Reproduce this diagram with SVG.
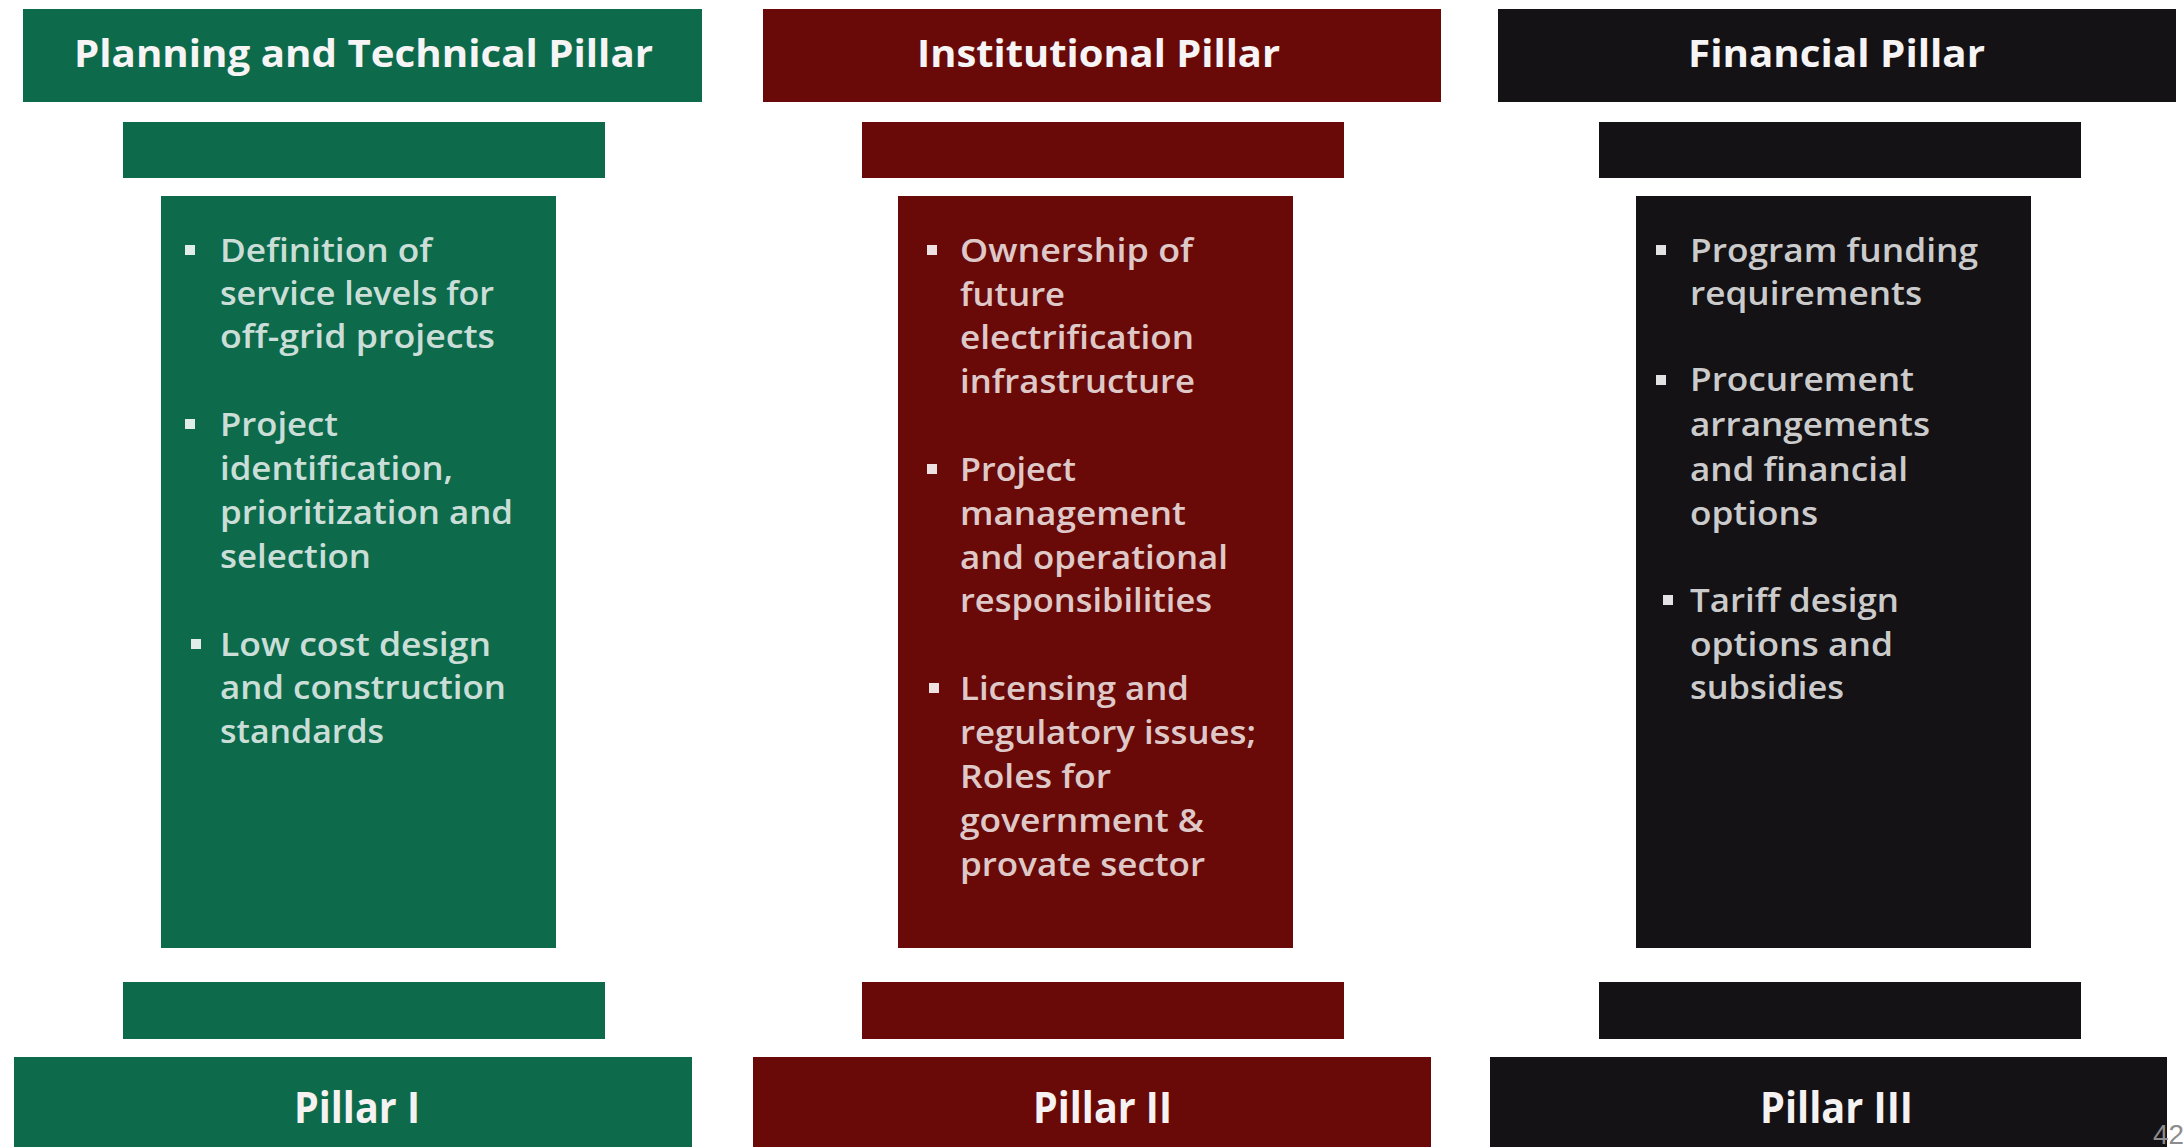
<svg xmlns="http://www.w3.org/2000/svg" width="2183" height="1147" viewBox="0 0 2183 1147">
  <style>
    .green { fill: #0d6b4c; }
    .red { fill: #6a0a08; }
    .black { fill: #141215; }
    .head { font-family: "Open Sans", "Liberation Sans", sans-serif; font-weight: 700; font-size: 37px; fill: #f6f4f4; }
    .foot { font-family: "Open Sans", "Liberation Sans", sans-serif; font-weight: 700; font-size: 43px; fill: #f6f2f2; }
    .item { font-family: "Open Sans", "Liberation Sans", sans-serif; font-weight: 600; font-size: 32px; fill: #ffffff; fill-opacity: 0.8; }
    .dot { fill: #ffffff; fill-opacity: 0.88; }
    .page { font-family: "Liberation Sans", sans-serif; font-size: 28px; fill: #8c8c8c; }
  </style>
  <rect width="2183" height="1147" fill="#ffffff"/>

  <!-- Pillar I: planning and technical -->
  <g id="pillar-planning">
    <rect class="green" x="23" y="9" width="679" height="93"/>
    <text class="head" x="74" y="67" textLength="579" lengthAdjust="spacingAndGlyphs">Planning and Technical Pillar</text>
    <rect class="green" x="123" y="122" width="482" height="56"/>
    <rect class="green" x="161" y="196" width="395" height="752"/>
    <rect class="dot" x="185" y="245" width="10" height="10"/>
    <rect class="dot" x="185" y="419" width="10" height="10"/>
    <rect class="dot" x="191" y="639" width="10" height="10"/>
    <text class="item" x="220" y="262" textLength="212" lengthAdjust="spacingAndGlyphs">Definition of</text>
    <text class="item" x="220" y="305" textLength="274" lengthAdjust="spacingAndGlyphs">service levels for</text>
    <text class="item" x="220" y="348" textLength="275" lengthAdjust="spacingAndGlyphs">off-grid projects</text>
    <text class="item" x="220" y="436" textLength="118" lengthAdjust="spacingAndGlyphs">Project</text>
    <text class="item" x="220" y="480" textLength="233" lengthAdjust="spacingAndGlyphs">identification,</text>
    <text class="item" x="220" y="524" textLength="293" lengthAdjust="spacingAndGlyphs">prioritization and</text>
    <text class="item" x="220" y="568" textLength="151" lengthAdjust="spacingAndGlyphs">selection</text>
    <text class="item" x="220" y="656" textLength="271" lengthAdjust="spacingAndGlyphs">Low cost design</text>
    <text class="item" x="220" y="699" textLength="286" lengthAdjust="spacingAndGlyphs">and construction</text>
    <text class="item" x="220" y="743" textLength="164" lengthAdjust="spacingAndGlyphs">standards</text>
    <rect class="green" x="123" y="982" width="482" height="57"/>
    <rect class="green" x="14" y="1057" width="678" height="95"/>
    <text class="foot" x="294" y="1123" textLength="126" lengthAdjust="spacingAndGlyphs">Pillar I</text>
  </g>

  <!-- Pillar II: institutional -->
  <g id="pillar-institutional">
    <rect class="red" x="763" y="9" width="678" height="93"/>
    <text class="head" x="917" y="67" textLength="363" lengthAdjust="spacingAndGlyphs">Institutional Pillar</text>
    <rect class="red" x="862" y="122" width="482" height="56"/>
    <rect class="red" x="898" y="196" width="395" height="752"/>
    <rect class="dot" x="927" y="245" width="10" height="10"/>
    <rect class="dot" x="927" y="464" width="10" height="10"/>
    <rect class="dot" x="929" y="683" width="10" height="10"/>
    <text class="item" x="960" y="262" textLength="233" lengthAdjust="spacingAndGlyphs">Ownership of</text>
    <text class="item" x="960" y="306" textLength="105" lengthAdjust="spacingAndGlyphs">future</text>
    <text class="item" x="960" y="349" textLength="234" lengthAdjust="spacingAndGlyphs">electrification</text>
    <text class="item" x="960" y="393" textLength="235" lengthAdjust="spacingAndGlyphs">infrastructure</text>
    <text class="item" x="960" y="481" textLength="116" lengthAdjust="spacingAndGlyphs">Project</text>
    <text class="item" x="960" y="525" textLength="226" lengthAdjust="spacingAndGlyphs">management</text>
    <text class="item" x="960" y="569" textLength="268" lengthAdjust="spacingAndGlyphs">and operational</text>
    <text class="item" x="960" y="612" textLength="252" lengthAdjust="spacingAndGlyphs">responsibilities</text>
    <text class="item" x="960" y="700" textLength="229" lengthAdjust="spacingAndGlyphs">Licensing and</text>
    <text class="item" x="960" y="744" textLength="296" lengthAdjust="spacingAndGlyphs">regulatory issues;</text>
    <text class="item" x="960" y="788" textLength="151" lengthAdjust="spacingAndGlyphs">Roles for</text>
    <text class="item" x="960" y="832" textLength="244" lengthAdjust="spacingAndGlyphs">government &amp;</text>
    <text class="item" x="960" y="876" textLength="245" lengthAdjust="spacingAndGlyphs">provate sector</text>
    <rect class="red" x="862" y="982" width="482" height="57"/>
    <rect class="red" x="753" y="1057" width="678" height="95"/>
    <text class="foot" x="1033" y="1123" textLength="139" lengthAdjust="spacingAndGlyphs">Pillar II</text>
  </g>

  <!-- Pillar III: financial -->
  <g id="pillar-financial">
    <rect class="black" x="1498" y="9" width="678" height="93"/>
    <text class="head" x="1688" y="67" textLength="297" lengthAdjust="spacingAndGlyphs">Financial Pillar</text>
    <rect class="black" x="1599" y="122" width="482" height="56"/>
    <rect class="black" x="1636" y="196" width="395" height="752"/>
    <rect class="dot" x="1656" y="245" width="10" height="10"/>
    <rect class="dot" x="1656" y="375" width="10" height="10"/>
    <rect class="dot" x="1663" y="595" width="10" height="10"/>
    <text class="item" x="1690" y="262" textLength="288" lengthAdjust="spacingAndGlyphs">Program funding</text>
    <text class="item" x="1690" y="305" textLength="232" lengthAdjust="spacingAndGlyphs">requirements</text>
    <text class="item" x="1690" y="391" textLength="224" lengthAdjust="spacingAndGlyphs">Procurement</text>
    <text class="item" x="1690" y="436" textLength="240" lengthAdjust="spacingAndGlyphs">arrangements</text>
    <text class="item" x="1690" y="481" textLength="218" lengthAdjust="spacingAndGlyphs">and financial</text>
    <text class="item" x="1690" y="525" textLength="128" lengthAdjust="spacingAndGlyphs">options</text>
    <text class="item" x="1690" y="612" textLength="209" lengthAdjust="spacingAndGlyphs">Tariff design</text>
    <text class="item" x="1690" y="656" textLength="203" lengthAdjust="spacingAndGlyphs">options and</text>
    <text class="item" x="1690" y="699" textLength="154" lengthAdjust="spacingAndGlyphs">subsidies</text>
    <rect class="black" x="1599" y="982" width="482" height="57"/>
    <rect class="black" x="1490" y="1057" width="677" height="95"/>
    <text class="foot" x="1760" y="1123" textLength="153" lengthAdjust="spacingAndGlyphs">Pillar III</text>
  </g>

  <!-- page number -->
  <text class="page" x="2153" y="1144" textLength="31" lengthAdjust="spacingAndGlyphs">42</text>
</svg>
